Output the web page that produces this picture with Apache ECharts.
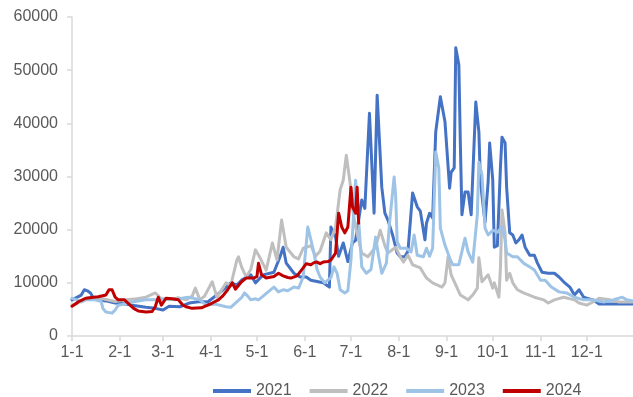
<!DOCTYPE html>
<html>
<head>
<meta charset="utf-8">
<script src="https://cdn.jsdelivr.net/npm/echarts@6/dist/echarts.min.js"></script>
<style>
  html, body { margin: 0; padding: 0; background: #fff; }
  #chart { width: 633px; height: 397px; }
</style>
</head>
<body>
<div id="chart"></div>
<script>
// Series names (years)
const years = ['2021', '2022', '2023', '2024'];

// Daily readings as [day of year (0 = Jan 1), value]
const s2021 = [[0,6800],[6,7700],[8,8700],[10,8500],[12,8100],[14,7100],[17,6800],[22,6600],[28,6200],[35,6000],[39,5800],[48,5400],[54,5200],[59,4900],[63,5600],[70,5500],[76,6200],[83,6500],[88,6400],[94,7700],[98,8700],[103,10000],[107,9600],[110,10500],[116,11500],[119,10000],[124,11500],[131,12000],[135,14900],[137,16700],[139,13700],[144,11800],[148,11100],[152,11100],[155,10500],[163,10000],[167,9200],[168,20500],[171,18600],[173,15000],[176,17500],[179,14000],[182,17500],[184,18000],[188,25600],[190,24000],[193,41900],[196,23100],[198,45300],[201,28000],[203,23100],[205,21800],[208,19000],[211,15600],[213,14900],[216,14900],[218,16000],[221,26900],[224,24300],[226,23500],[229,18100],[230,21200],[232,23100],[234,22200],[236,38400],[239,45000],[240,45000],[242,40300],[245,27800],[246,30800],[248,31600],[249,54200],[251,51000],[252,35900],[253,22800],[255,27100],[257,27100],[259,22800],[262,44000],[264,38400],[265,29000],[268,21400],[270,29000],[271,36300],[273,29300],[274,16700],[276,17000],[278,31800],[279,37400],[281,36300],[282,28000],[284,19400],[286,19000],[288,17500],[290,18100],[292,19000],[294,16700],[297,15200],[300,15200],[302,13700],[305,12000],[309,11800],[313,11800],[316,11100],[319,10200],[323,9200],[326,7700],[329,8700],[332,7300],[334,7100],[338,6800],[342,6000],[351,6000],[364,6000]];

const s2022 = [[0,5800],[3,6000],[8,7000],[14,7300],[20,7000],[28,6500],[35,6800],[42,7000],[48,7300],[54,8100],[58,7000],[63,6800],[69,7200],[74,6800],[78,7500],[80,9000],[83,6800],[86,7500],[91,10200],[94,7300],[100,10000],[103,9500],[107,14300],[108,14900],[110,13000],[113,11100],[116,12500],[119,16200],[122,14700],[126,12400],[130,17500],[133,14300],[136,21800],[139,16700],[144,14900],[147,14500],[150,16500],[152,16700],[155,17000],[158,15000],[161,16000],[165,19400],[168,18100],[171,20500],[174,27500],[176,29300],[178,34000],[181,27500],[182,24000],[184,20500],[188,15600],[192,14900],[197,16700],[200,19900],[203,17000],[205,15600],[210,16700],[213,14900],[215,13900],[218,15200],[221,13400],[226,12800],[230,10900],[234,10000],[240,9200],[242,10000],[244,14900],[246,11500],[249,9600],[252,7700],[257,6800],[260,7700],[263,9000],[264,14700],[266,10200],[270,11500],[273,9000],[274,10000],[277,7300],[278,13000],[279,23700],[281,19400],[282,10500],[284,11800],[286,10000],[289,8700],[293,8100],[300,7300],[306,6800],[309,6200],[313,6800],[319,7300],[326,6800],[329,6200],[334,5800],[338,6400],[342,7100],[349,6800],[355,6400],[364,6400]];

const s2023 = [[0,7100],[3,6800],[6,6400],[9,6800],[15,6800],[19,6500],[20,5200],[22,4500],[26,4300],[28,4900],[30,5800],[34,6000],[39,6400],[48,6800],[54,6800],[61,7000],[67,6800],[73,7200],[76,7300],[83,6800],[87,5800],[93,6000],[100,5500],[103,5400],[106,6200],[110,7200],[112,8100],[114,7500],[116,6800],[119,7000],[121,6800],[124,7500],[128,8500],[131,9200],[134,8300],[137,8700],[140,8500],[144,9200],[147,9000],[150,11100],[153,20500],[155,18100],[157,15600],[159,12500],[161,11100],[164,10000],[166,10500],[168,11000],[170,13000],[172,11800],[174,8700],[177,8100],[179,8500],[181,14300],[184,29300],[186,21800],[188,13000],[191,11800],[194,12500],[197,18600],[199,14900],[201,11800],[204,13700],[206,21200],[209,29900],[210,26500],[211,17700],[213,16500],[217,16500],[220,15800],[222,19000],[224,15200],[228,14900],[230,16500],[232,15000],[234,16500],[236,34600],[238,31600],[239,20300],[242,17100],[245,14700],[247,13400],[251,13400],[255,18400],[257,15800],[260,13900],[263,22800],[264,32700],[266,30300],[268,20300],[270,19000],[273,19900],[276,19500],[279,20500],[281,18100],[282,15600],[286,14900],[289,14900],[293,13700],[297,13000],[300,12400],[304,10500],[307,10500],[311,9200],[316,8300],[321,8100],[326,7300],[332,6800],[338,6800],[345,6400],[351,6800],[357,7300],[360,6800],[364,6600]];

const s2024 = [[0,5600],[4,6400],[9,7100],[14,7300],[17,7400],[22,7700],[24,8700],[26,8700],[28,7300],[30,6800],[34,6800],[37,6000],[40,5200],[43,4700],[48,4500],[52,4600],[54,5500],[56,7300],[58,5800],[61,7100],[65,7000],[69,6800],[72,5800],[74,5500],[78,5200],[84,5300],[91,6200],[95,6800],[98,7600],[101,8700],[104,10000],[106,8800],[110,10200],[113,10900],[118,10900],[120,11200],[121,13700],[123,11500],[126,10900],[131,11200],[134,11800],[137,11300],[140,11000],[142,10900],[146,11300],[150,12800],[152,13600],[155,13400],[157,13800],[159,13900],[161,13600],[163,13900],[166,14000],[168,14300],[171,15600],[173,23100],[175,20500],[177,19400],[179,20500],[181,28000],[182,24300],[184,23100],[185,28000],[186,21200]];

// Y axis range
const yMin = 0, yMax = 60000, yStep = 10000;

const colors = ['#4472C4', '#BFBFBF', '#9DC3E6', '#C00000'];
const seriesData = [s2021, s2022, s2023, s2024];

const DAY = 86400000;
const START = Date.UTC(2021, 0, 1);
const END = Date.UTC(2021, 11, 31);
const toTime = arr => arr.map(([d, v]) => [START + d * DAY, v]);

const font = '"Liberation Sans", Arial, sans-serif';
const axisGrey = '#D9D9D9';
const textGrey = '#595959';

const chart = echarts.init(document.getElementById('chart'), null, { renderer: 'canvas' });
chart.setOption({
  animation: false,
  useUTC: true,
  textStyle: { fontFamily: font },
  grid: { left: 72, top: 17, width: 565, height: 319 },
  xAxis: {
    type: 'time',
    min: START,
    max: END,
    splitNumber: 12,
    minInterval: 28 * DAY,
    maxInterval: 31 * DAY,
    axisLine: { lineStyle: { color: axisGrey, width: 1.5 } },
    axisTick: { show: true, length: 5, lineStyle: { color: axisGrey, width: 1.5 } },
    splitLine: { show: false },
    axisLabel: {
      color: textGrey, fontSize: 16, fontFamily: font, margin: 9,
      hideOverlap: false,
      formatter: v => (new Date(v).getUTCMonth() + 1) + '-1'
    }
  },
  yAxis: {
    type: 'value',
    min: yMin, max: yMax, interval: yStep,
    axisLine: { show: true, lineStyle: { color: axisGrey, width: 1.5 } },
    axisTick: { show: true, length: 5, lineStyle: { color: axisGrey, width: 1.5 } },
    splitLine: { show: false },
    axisLabel: { color: textGrey, fontSize: 16, fontFamily: font, margin: 14, formatter: v => String(v) }
  },
  legend: {
    left: 208, top: 378,
    itemWidth: 38, itemHeight: 4, itemGap: 18,
    icon: 'rect',
    textStyle: { color: textGrey, fontSize: 16, fontFamily: font },
    data: years
  },
  series: years.map((y, i) => ({
    name: y,
    type: 'line',
    data: toTime(seriesData[i]),
    showSymbol: false,
    symbol: 'none',
    color: colors[i],
    itemStyle: { color: colors[i] },
    lineStyle: { color: colors[i], width: 3, cap: 'round', join: 'round' },
    z: 2 + i
  }))
});
</script>
</body>
</html>
